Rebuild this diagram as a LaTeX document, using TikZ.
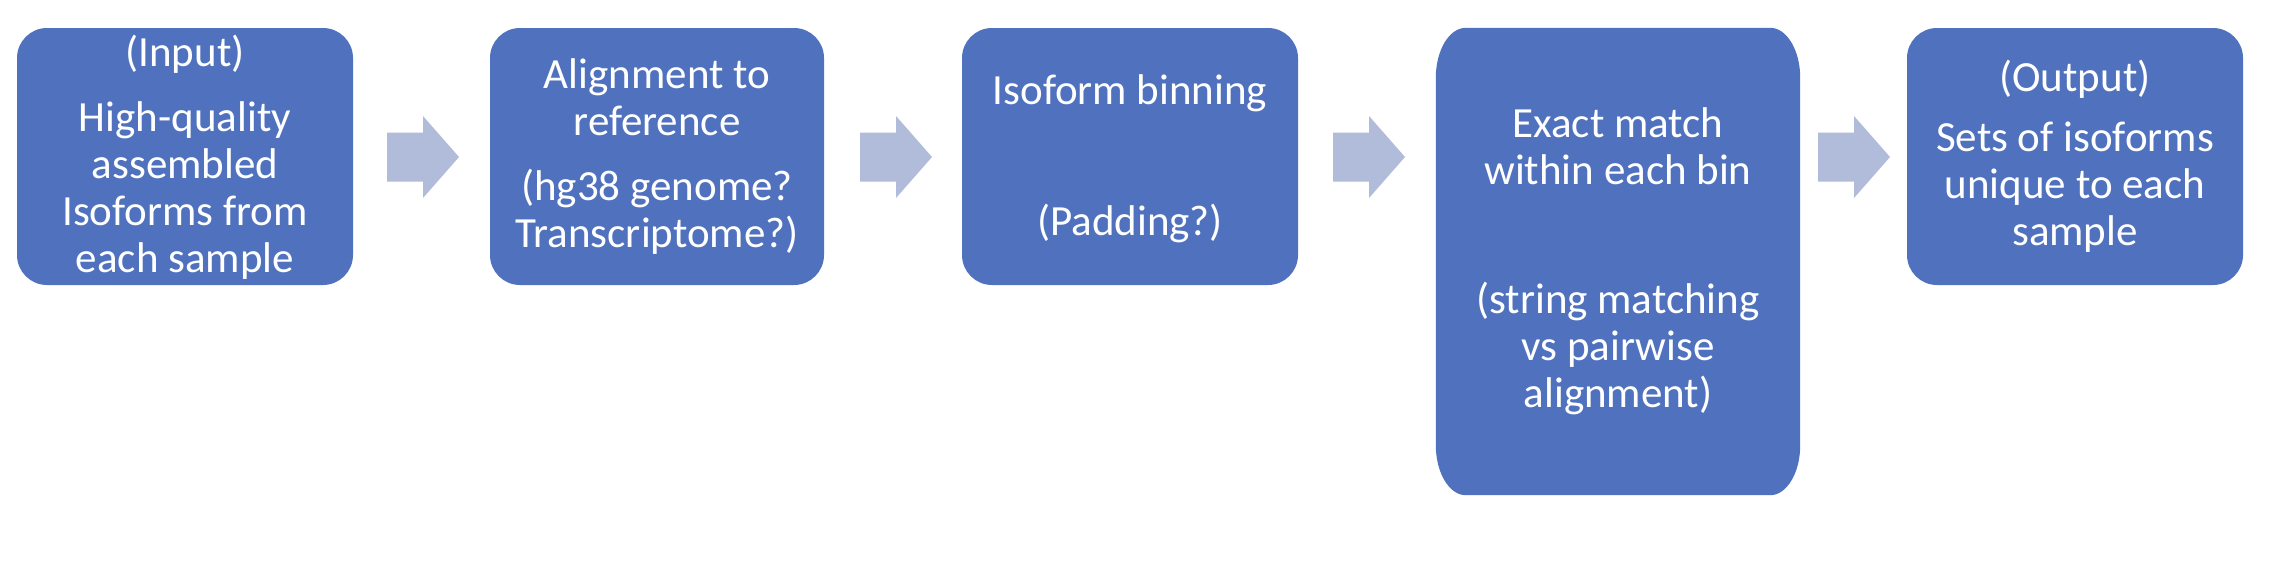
\documentclass[tikz,border=0pt]{standalone}
\usepackage{fontspec}
\setmainfont{Carlito}
\definecolor{boxc}{HTML}{5072BE}
\definecolor{arrc}{HTML}{B1BCDB}
\begin{document}
\begin{tikzpicture}[x=1pt,y=-1pt,
  stepbox/.style={fill=boxc,draw=none,rounded corners=30pt,inner sep=0pt,minimum height=257pt},
  steptext/.style={text=white,align=center,anchor=base,inner sep=0pt,font=\fontsize{43}{47}\selectfont},
  blockarrow/.style={fill=arrc,draw=none}]
\useasboundingbox (0,0) rectangle (2280,574);
\node[stepbox,minimum width=336pt] (b1) at (185,156.5) {};
\node[stepbox,minimum width=334pt] (b2) at (657,156.5) {};
\node[stepbox,minimum width=336pt] (b3) at (1130,156.5) {};
\node[inner sep=0pt,minimum width=364pt,minimum height=467pt] (b4) at (1618,261.5) {};
\fill[boxc] ([xshift=30pt]b4.north west) -- ([xshift=-30pt]b4.north east)
  arc[start angle=90,end angle=0,x radius=30pt,y radius=50pt]
  -- ([yshift=50pt]b4.south east)
  arc[start angle=0,end angle=-90,x radius=30pt,y radius=50pt]
  -- ([xshift=30pt]b4.south west)
  arc[start angle=-90,end angle=-180,x radius=30pt,y radius=50pt]
  -- ([yshift=-50pt]b4.north west)
  arc[start angle=180,end angle=90,x radius=30pt,y radius=50pt] -- cycle;
\node[stepbox,minimum width=336pt] (b5) at (2075,156.5) {};
\node[steptext] (t1) at (185,272) {(Input)\\[18pt]High-quality\\assembled\\Isoforms from\\each sample};
\node[steptext] (t2) at (657,247) {Alignment to\\reference\\[18pt](hg38 genome?\\Transcriptome?)};
\node[steptext] (t3) at (1130,235) {Isoform binning\\[84pt](Padding?)};
\node[steptext] (t4) at (1618,407) {Exact match\\within each bin\\[82pt](string matching\\vs pairwise\\alignment)};
\node[steptext] (t5) at (2075,245) {(Output)\\[13pt]Sets of isoforms\\unique to each\\sample};
\coordinate (a1) at (387,157);
\coordinate (a2) at (860,157);
\coordinate (a3) at (1333,157);
\coordinate (a4) at (1818,157);
\foreach \a in {a1,a2,a3,a4}{
  \fill[blockarrow] (\a) ++(0,-24.5) -- ++(36,0) -- ++(0,-16.5) -- ++(36,41) -- ++(-36,41) -- ++(0,-16.5) -- ++(-36,0) -- cycle;
}
\end{tikzpicture}
\end{document}
